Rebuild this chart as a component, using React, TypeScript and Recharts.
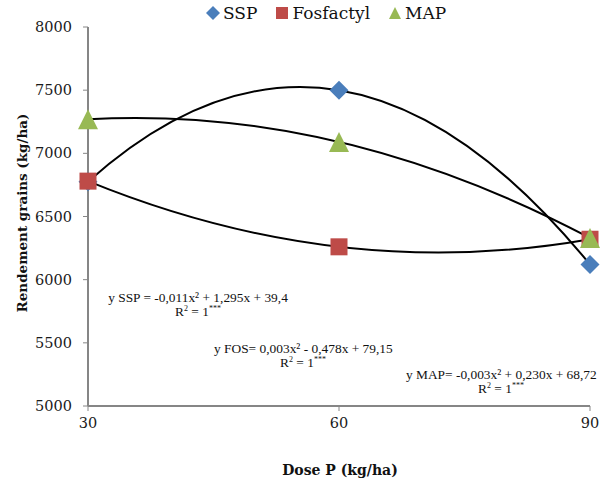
import React from "react";
import { LineChart, Line, XAxis, YAxis } from "recharts";

// valeurs (kg/ha)
const doses = [30, 60, 90];
const ssp = [6775, 7500, 6120];
const fosfactyl = [6780, 6260, 6320];
const map = [7270, 7090, 6330];
const yTicks = [5000, 5500, 6000, 6500, 7000, 7500, 8000];

const SERIES = [
  { key: "ssp", name: "SSP", color: "#4a7ebb", shape: "diamond" },
  { key: "fos", name: "Fosfactyl", color: "#be4b48", shape: "square" },
  { key: "map", name: "MAP", color: "#98b954", shape: "triangle" },
];

const EQUATIONS = [
  { text: "y SSP = -0,011x² + 1,295x + 39,4", left: 105, top: 291, width: 186 },
  { text: "y FOS= 0,003x² - 0,478x + 79,15", left: 214, top: 342, width: 178 },
  { text: "y MAP= -0,003x² + 0,230x + 68,72", left: 406, top: 368, width: 190 },
];

const data = doses.map((d, i) => ({
  dose: d,
  ssp: ssp[i],
  fos: fosfactyl[i],
  map: map[i],
}));

const SERIF = "'DejaVu Serif', serif";
const AXIS = "#868686";

// courbe de tendance polynomiale d'ordre 2 : parabole exacte par 3 points
const quadCurve = (context: any) => {
  let pts: number[][] = [];
  return {
    areaStart() {},
    areaEnd() {},
    lineStart() {
      pts = [];
    },
    lineEnd() {
      if (pts.length === 3) {
        const [p0, p1, p2] = pts;
        const cx = 2 * p1[0] - (p0[0] + p2[0]) / 2;
        const cy = 2 * p1[1] - (p0[1] + p2[1]) / 2;
        context.moveTo(p0[0], p0[1]);
        context.quadraticCurveTo(cx, cy, p2[0], p2[1]);
      } else if (pts.length) {
        context.moveTo(pts[0][0], pts[0][1]);
        pts.slice(1).forEach((p) => context.lineTo(p[0], p[1]));
      }
    },
    point(x: number, y: number) {
      pts.push([+x, +y]);
    },
  };
};

function Marker({ shape, color, cx, cy }: any) {
  if (shape === "diamond") {
    const r = 9.5;
    return (
      <polygon
        points={`${cx},${cy - r} ${cx + r},${cy} ${cx},${cy + r} ${cx - r},${cy}`}
        fill={color}
      />
    );
  }
  if (shape === "square") {
    const r = 8.5;
    return <rect x={cx - r} y={cy - r} width={2 * r} height={2 * r} fill={color} />;
  }
  const r = 10;
  return (
    <polygon
      points={`${cx},${cy - r} ${cx + r},${cy + r} ${cx - r},${cy + r}`}
      fill={color}
    />
  );
}

function Legend() {
  return (
    <div
      style={{
        position: "absolute",
        top: 3,
        left: 206,
        display: "flex",
        alignItems: "center",
        fontFamily: SERIF,
        fontSize: 17,
        color: "#111",
      }}
    >
      {SERIES.map((s) => (
        <div key={s.key} style={{ display: "flex", alignItems: "center", marginRight: 18 }}>
          <svg width={14} height={14} viewBox="0 0 14 14" style={{ marginRight: 3 }}>
            {s.shape === "diamond" && <polygon points="7,0 14,7 7,14 0,7" fill={s.color} />}
            {s.shape === "square" && <rect x={1} y={1} width={12} height={12} fill={s.color} />}
            {s.shape === "triangle" && <polygon points="7,1 13,13 1,13" fill={s.color} />}
          </svg>
          <span>{s.name}</span>
        </div>
      ))}
    </div>
  );
}

const sup = { fontSize: 8, verticalAlign: "super", lineHeight: 0 } as const;

export default function App() {
  return (
    <div
      style={{
        position: "fixed",
        left: 0,
        top: 0,
        width: 603,
        height: 483,
        background: "#fff",
      }}
    >
      <LineChart
        width={603}
        height={483}
        data={data}
        margin={{ top: 27, right: 13, bottom: 47, left: 20 }}
      >
        <XAxis
          dataKey="dose"
          type="number"
          domain={[30, 90]}
          ticks={doses}
          axisLine={{ stroke: AXIS, strokeWidth: 2 }}
          tickLine={{ stroke: AXIS }}
          tickSize={5}
          height={30}
          tick={{ fontFamily: SERIF, fontSize: 14.5, fill: "#1a1a1a" }}
          tickMargin={7}
        />
        <YAxis
          type="number"
          domain={[5000, 8000]}
          ticks={yTicks}
          axisLine={{ stroke: AXIS, strokeWidth: 2 }}
          tickLine={{ stroke: AXIS }}
          tickSize={5}
          width={68}
          tick={{ fontFamily: SERIF, fontSize: 14.5, fill: "#1a1a1a" }}
          tickMargin={11}
        />
        {SERIES.map((s) => (
          <Line
            key={s.key + "-pts"}
            dataKey={s.key}
            stroke="none"
            isAnimationActive={false}
            legendType="none"
            dot={(p: any) => (
              <Marker key={s.key + p.index} shape={s.shape} color={s.color} cx={p.cx} cy={p.cy} />
            )}
            activeDot={false}
          />
        ))}
        {SERIES.map((s) => (
          <Line
            key={s.key + "-trend"}
            dataKey={s.key}
            type={quadCurve as any}
            stroke="#000"
            strokeWidth={2}
            dot={false}
            activeDot={false}
            isAnimationActive={false}
          />
        ))}
      </LineChart>

      <Legend />

      {EQUATIONS.map((e) => (
        <div
          key={e.text}
          style={{
            position: "absolute",
            left: e.left,
            top: e.top,
            width: e.width,
            textAlign: "center",
            fontFamily: "'Liberation Serif', serif",
            fontSize: 13.4,
            lineHeight: "14px",
            color: "#111",
            whiteSpace: "nowrap",
          }}
        >
          <div>{e.text}</div>
          <div>
            R<span style={sup}>2</span> = 1<span style={sup}>***</span>
          </div>
        </div>
      ))}

      <div
        style={{
          position: "absolute",
          left: 22,
          top: 213,
          transform: "translate(-50%, -50%) rotate(-90deg)",
          whiteSpace: "nowrap",
          fontFamily: SERIF,
          fontWeight: "bold",
          fontSize: 13.5,
          color: "#111",
        }}
      >
        Rendement grains (kg/ha)
      </div>
      <div
        style={{
          position: "absolute",
          left: 340,
          top: 470,
          transform: "translate(-50%, -50%)",
          whiteSpace: "nowrap",
          fontFamily: SERIF,
          fontWeight: "bold",
          fontSize: 14,
          color: "#111",
        }}
      >
        Dose P (kg/ha)
      </div>
    </div>
  );
}
